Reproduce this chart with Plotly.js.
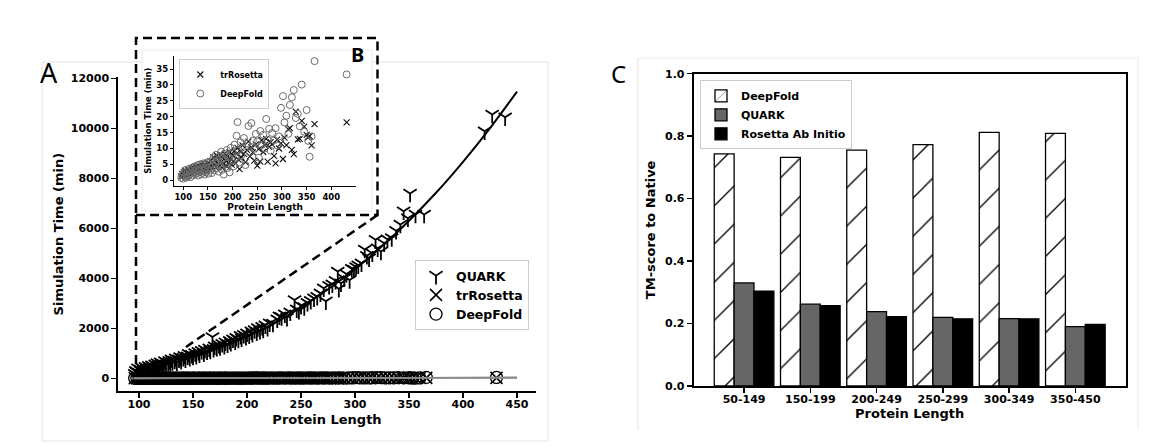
<!DOCTYPE html>
<html>
<head>
<meta charset="utf-8">
<script src="https://cdn.plot.ly/plotly-3.0.1.min.js"></script>
<style>
  html, body { margin: 0; padding: 0; background: #ffffff; }
  #chart { width: 1166px; height: 448px; }
</style>
</head>
<body>
<div id="chart"></div>
<script>
// ---------- Panel A: QUARK simulation time (min) vs protein length ----------
const quarkX = [96,97,98,99,100,101,102,103,104,105,106,107,108,109,110,111,112,113,114,115,116,117,118,119,120,121,122,123,124,125,127,128,129,130,131,133,134,135,137,138,139,141,142,143,145,146,147,149,150,
  152,153,155,156,158,160,161,163,165,166,168,169,170,172,174,175,177,179,180,182,184,185,187,189,190,192,194,195,197,199,200,202,204,205,207,209,210,212,214,215,217,219,221,224,228,230,232,235,237,240,244,246,248,250,253,256,259,262,265,268,271,273,276,279,282,284,285,287,290,292,295,297,299,301,303,306,309,311,313,316,319,321,324,327,330,334,338,342,345,349,351,356,364,420,427,439];
const quarkY = [180,300,250,400,220,350,290,420,330,260,460,380,310,500,420,360,520,470,400,560,430,610,500,450,640,540,590,480,690,560,620,700,580,760,650,710,800,640,760,850,700,820,900,760,880,980,820,940,870,
  1010,900,1060,960,1100,1000,1150,1080,1200,1110,1650,1180,1280,1220,1340,1250,1380,1300,1440,1360,1500,1420,1560,1480,1620,1550,1700,1600,1740,1660,1800,1720,1880,1780,1930,1840,2010,1900,2060,1950,2120,2020,2200,2190,2360,2480,2450,2560,2420,2640,3130,2760,2700,2900,2850,3020,3100,3200,3260,3400,3600,3080,3700,3760,3900,4270,3580,3800,4000,4170,3930,4380,4350,4450,4520,4600,5150,4900,4800,5000,5540,5200,5070,5400,5560,5610,5900,6150,6680,6400,7390,6550,6550,9880,10550,10440];

// fitted QUARK trend, read at regular lengths
const quarkFitX = [95,100,125,150,175,200,225,250,275,300,325,350,375,400,425,450];
const quarkFitY = [280,320,560,850,1220,1670,2200,2840,3560,4370,5280,6300,7420,8660,10010,11470];

// ---------- trRosetta and DeepFold simulation time (min) ----------
const trX = [96,98,100,101,103,104,106,107,109,110,112,113,115,116,118,119,121,122,124,125,127,128,130,131,133,134,136,137,139,140,142,143,145,146,148,150,151,153,155,156,158,160,161,163,165,166,168,170,172,174,175,177,179,180,182,184,186,188,190,192,194,196,198,200,202,204,206,208,210,212,214,216,218,220,223,226,229,232,235,238,241,244,247,250,253,256,259,262,265,268,271,274,277,280,284,287,290,294,298,302,305,309,313,316,320,324,328,332,336,340,345,350,353,356,360,366,431];
const trY = [1.2,2.0,1.5,2.6,1.8,3.0,2.2,1.4,2.8,3.4,2.0,3.1,2.5,3.8,2.2,3.3,4.0,2.6,3.5,2.9,4.3,3.1,2.4,4.6,3.6,2.8,4.1,5.0,3.3,4.4,2.9,5.2,3.8,4.7,3.2,5.5,4.1,3.6,6.0,4.5,3.9,5.6,7.2,4.8,6.3,4.1,7.8,5.2,6.6,4.6,8.1,5.8,3.9,7.0,5.1,8.4,6.2,4.4,7.5,5.6,8.9,6.8,4.9,7.9,6.1,9.3,5.3,8.4,10.2,6.5,3.5,9.0,7.2,11.0,8.3,5.7,9.6,12.2,7.5,10.4,8.8,6.2,11.3,4.6,9.8,5.9,12.6,8.9,11.1,13.0,5.9,10.5,12.0,11.3,7.7,5.3,12.8,10.0,11.6,6.7,13.4,11.1,16.0,16.4,9.6,8.2,21.6,12.9,13.0,18.7,16.9,14.3,13.5,13.9,11.0,17.7,18.2];

const dfX = [96,98,100,101,103,104,106,107,109,110,112,113,115,116,118,119,121,122,124,125,127,128,130,131,133,134,136,137,139,140,142,143,145,146,148,150,151,153,155,156,158,160,161,163,165,166,168,170,172,174,175,177,179,180,182,184,186,188,190,192,194,196,198,200,202,204,206,208,210,212,214,216,218,220,223,226,229,232,235,238,241,244,247,250,253,256,259,262,265,268,271,274,277,280,284,287,290,294,298,302,305,309,313,316,320,324,328,332,336,340,345,350,353,356,360,366,431];
const dfY = [0.8,1.6,0.5,2.3,1.1,3.2,1.7,0.9,2.6,1.3,3.6,2.0,1.0,2.9,3.9,1.6,2.5,4.3,1.9,3.1,2.2,4.7,1.5,3.4,2.7,5.0,1.9,3.8,2.4,5.3,3.0,1.8,4.2,2.6,5.6,3.5,2.1,4.9,3.1,6.0,2.3,4.4,7.0,3.2,5.4,8.0,3.8,6.3,2.7,7.6,4.6,9.0,3.3,6.8,1.8,8.3,5.2,9.5,3.9,7.3,2.5,10.2,6.1,8.7,4.4,11.2,7.0,14.0,18.3,9.5,5.6,12.0,7.9,10.4,13.3,4.8,11.6,17.1,8.8,18.0,12.5,9.9,14.6,12.2,7.1,15.5,11.1,14.3,10.0,19.3,12.7,16.2,9.3,14.9,12.6,16.4,11.0,13.8,22.8,26.5,18.2,20.3,14.6,23.7,26.1,28.4,19.6,20.9,17.0,30.1,15.3,22.1,12.4,7.4,13.8,37.5,33.3];

// fitted trends for trRosetta and DeepFold
const fastFitX = [95,150,200,250,300,350,400,450];
const trFitY = [1.5,3.5,6.0,8.5,11.0,14.0,17.0,20.0];
const dfFitY = [1.0,3.2,6.5,10.5,15.0,20.5,27.0,34.0];

// axis tick labels
const timeTicks = [0,2000,4000,6000,8000,10000,12000];
const timeTickText = ['0','2000','4000','6000','8000','10000','12000'];
const lengthTicks = [100,150,200,250,300,350,400,450];
const insetLengthTicks = [100,150,200,250,300,350,400];
const insetTimeTicks = [0,5,10,15,20,25,30,35];
const tmTicks = [0,0.2,0.4,0.6,0.8,1.0];
const tmTickText = ['0.0','0.2','0.4','0.6','0.8','1.0'];

// ---------- Panel C: mean TM-score by length bin ----------
const lengthBins = ['50-149','150-199','200-249','250-299','300-349','350-450'];
const deepfoldTM = [0.743,0.732,0.755,0.773,0.812,0.809];
const quarkTM = [0.330,0.262,0.238,0.220,0.216,0.190];
const rosettaTM = [0.304,0.257,0.222,0.215,0.215,0.197];

// ---------- layout helpers (pixel -> paper) ----------
const W = 1166, H = 448;
const px = v => v / W;
const py = v => 1 - v / H;

const FONT = 'DejaVu Sans';
const bold = (size) => ({ family: FONT, size: size, color: '#000', weight: 'bold' });

function axisBase(extra) {
  return Object.assign({
    showline: true, linecolor: '#000', linewidth: 2,
    ticks: 'outside', ticklen: 5, tickwidth: 1.5, tickcolor: '#000',
    showgrid: false, zeroline: false, automargin: false,
    tickfont: bold(11)
  }, extra);
}

const binIdx = lengthBins.map((_, i) => i);

const traces = [
  // Panel A
  { type: 'scatter', mode: 'markers', name: 'QUARK', x: quarkX, y: quarkY, xaxis: 'x', yaxis: 'y', legend: 'legend',
    marker: { symbol: 'y-down', size: 11, color: '#000', line: { color: '#000', width: 1.8 } } },
  { type: 'scatter', mode: 'lines', x: quarkFitX, y: quarkFitY, xaxis: 'x', yaxis: 'y', showlegend: false,
    line: { color: '#000', width: 2, shape: 'spline' }, hoverinfo: 'skip' },
  { type: 'scatter', mode: 'markers', name: 'trRosetta', x: trX, y: trY, xaxis: 'x', yaxis: 'y', legend: 'legend',
    marker: { symbol: 'x-thin', size: 12, color: '#000', line: { color: '#000', width: 1.6 } } },
  { type: 'scatter', mode: 'markers', name: 'DeepFold', x: dfX, y: dfY, xaxis: 'x', yaxis: 'y', legend: 'legend',
    marker: { symbol: 'circle-open', size: 12, color: '#000', line: { width: 1.3 } } },
  { type: 'scatter', mode: 'lines', x: fastFitX, y: trFitY, xaxis: 'x', yaxis: 'y', showlegend: false,
    line: { color: '#8a8a8a', width: 1.8, shape: 'spline' }, hoverinfo: 'skip' },
  { type: 'scatter', mode: 'lines', x: fastFitX, y: dfFitY, xaxis: 'x', yaxis: 'y', showlegend: false,
    line: { color: '#8a8a8a', width: 1.8, shape: 'spline' }, hoverinfo: 'skip' },

  // Panel B (inset)
  { type: 'scatter', mode: 'markers', name: 'trRosetta', x: trX, y: trY, xaxis: 'x2', yaxis: 'y2', legend: 'legend2',
    marker: { symbol: 'x-thin', size: 6, color: '#111', line: { color: '#111', width: 1.1 } } },
  { type: 'scatter', mode: 'markers', name: 'DeepFold', x: dfX, y: dfY, xaxis: 'x2', yaxis: 'y2', legend: 'legend2',
    marker: { symbol: 'circle-open', size: 7, color: '#6a6a6a', line: { width: 1 } } },

  // Panel C
  { type: 'bar', name: 'DeepFold', x: binIdx, y: deepfoldTM, xaxis: 'x3', yaxis: 'y3', legend: 'legend3',
    marker: { color: '#ffffff', line: { color: '#000', width: 1.3 },
      pattern: { shape: '/', fgcolor: '#000', bgcolor: '#ffffff', size: 27, solidity: 0.05, fillmode: 'replace' } } },
  { type: 'bar', name: 'QUARK', x: binIdx, y: quarkTM, xaxis: 'x3', yaxis: 'y3', legend: 'legend3',
    marker: { color: '#666666', line: { color: '#000', width: 1.3 } } },
  { type: 'bar', name: 'Rosetta Ab Initio', x: binIdx, y: rosettaTM, xaxis: 'x3', yaxis: 'y3', legend: 'legend3',
    marker: { color: '#000000', line: { color: '#000', width: 1.3 } } }
];

const legendBox = (x, y, size) => ({
  x: px(x), y: py(y), xanchor: 'left', yanchor: 'top',
  bgcolor: 'rgba(255,255,255,0.85)', bordercolor: '#cccccc', borderwidth: 1,
  font: bold(size), traceorder: 'normal', itemclick: false
});

const dash = '9px,5px';
const layout = {
  width: W, height: H,
  margin: { l: 0, r: 0, t: 0, b: 0 },
  paper_bgcolor: '#ffffff', plot_bgcolor: 'rgba(0,0,0,0)',
  font: { family: FONT, color: '#000' },
  showlegend: true,
  barmode: 'group', bargap: 0.1, bargroupgap: 0,

  // Panel A axes
  xaxis: axisBase({ domain: [px(118.3), px(535.7)], range: [80.8, 467.3], anchor: 'y',
    tickmode: 'array', tickvals: lengthTicks, ticklabelstandoff: -3,
    title: { text: 'Protein Length', font: bold(13), standoff: 5 } }),
  yaxis: axisBase({ domain: [py(391), py(77.3)], range: [-508, 12040], anchor: 'x',
    tickmode: 'array', tickvals: timeTicks, ticktext: timeTickText,
    title: { text: 'Simulation Time (min)', font: bold(13), standoff: 4 } }),

  // Panel B (inset) axes
  xaxis2: axisBase({ domain: [px(174.3), px(356)], range: [81.8, 450], anchor: 'y2',
    linewidth: 1.5, ticklen: 3, tickwidth: 1, tickfont: bold(8.5),
    tickmode: 'array', tickvals: insetLengthTicks,
    title: { text: 'Protein Length', font: bold(9), standoff: 2 } }),
  yaxis2: axisBase({ domain: [py(185.7), py(55.7)], range: [-1.7, 39.2], anchor: 'x2',
    linewidth: 1.5, ticklen: 3, tickwidth: 1, tickfont: bold(8.5),
    tickmode: 'array', tickvals: insetTimeTicks,
    title: { text: 'Simulation Time (min)', font: bold(8.5), standoff: 3 } }),

  // Panel C axes
  xaxis3: axisBase({ domain: [px(693.7), px(1125.7)], range: [-0.76, 5.76], anchor: 'y3', mirror: true,
    tickmode: 'array', tickvals: binIdx, ticktext: lengthBins, ticklabelstandoff: -3,
    title: { text: 'Protein Length', font: bold(13), standoff: 4 } }),
  yaxis3: axisBase({ domain: [py(386), py(73.7)], range: [0, 1.0], anchor: 'x3', mirror: true,
    tickmode: 'array', tickvals: tmTicks, ticktext: tmTickText,
    title: { text: 'TM-score to Native', font: bold(13), standoff: 6 } }),

  legend: legendBox(415, 260, 12.5),
  legend2: legendBox(179.3, 59, 8),
  legend3: legendBox(700, 80.3, 11),

  shapes: [
    // panel frames
    { type: 'rect', xref: 'paper', yref: 'paper', x0: px(42), x1: px(548), y0: py(441), y1: py(62),
      line: { color: '#e2e2e2', width: 1 }, layer: 'below' },
    { type: 'rect', xref: 'paper', yref: 'paper', x0: px(142), x1: px(372), y0: py(211), y1: py(50),
      fillcolor: '#ffffff', line: { color: '#ececec', width: 1 }, layer: 'below' },
    { type: 'line', xref: 'paper', yref: 'paper', x0: px(638), x1: px(638), y0: py(430), y1: py(58),
      line: { color: '#e2e2e2', width: 1 }, layer: 'below' },
    { type: 'line', xref: 'paper', yref: 'paper', x0: px(638), x1: px(1138), y0: py(58), y1: py(58),
      line: { color: '#ececec', width: 1 }, layer: 'below' },
    { type: 'line', xref: 'paper', yref: 'paper', x0: px(1138), x1: px(1138), y0: py(58), y1: py(430),
      line: { color: '#ececec', width: 1 }, layer: 'below' },
    // zoom box outlining the inset
    { type: 'rect', xref: 'paper', yref: 'paper', x0: px(136), x1: px(377.5), y0: py(215), y1: py(38),
      line: { color: '#000', width: 2.5, dash: dash }, layer: 'above' },
    { type: 'line', xref: 'paper', yref: 'paper', x0: px(136), x1: px(136), y0: py(215), y1: py(370),
      line: { color: '#000', width: 2.5, dash: dash }, layer: 'above' },
    { type: 'line', xref: 'paper', yref: 'paper', x0: px(377.5), x1: px(186), y0: py(215), y1: py(347),
      line: { color: '#000', width: 2.5, dash: dash }, layer: 'above' }
  ],

  annotations: [
    { text: 'A', xref: 'paper', yref: 'paper', x: px(49), y: py(72), xanchor: 'center', yanchor: 'middle',
      showarrow: false, font: { family: 'Noto Sans', size: 27, color: '#000' } },
    { text: 'B', xref: 'paper', yref: 'paper', x: px(357), y: py(55), xanchor: 'center', yanchor: 'middle',
      showarrow: false, font: { family: 'Noto Sans', size: 20, color: '#000', weight: 'bold' } },
    { text: 'C', xref: 'paper', yref: 'paper', x: px(618), y: py(73), xanchor: 'center', yanchor: 'middle',
      showarrow: false, font: { family: 'Noto Sans', size: 24, color: '#000' } }
  ]
};

Plotly.newPlot('chart', traces, layout, { staticPlot: true, displayModeBar: false });
</script>
</body>
</html>
